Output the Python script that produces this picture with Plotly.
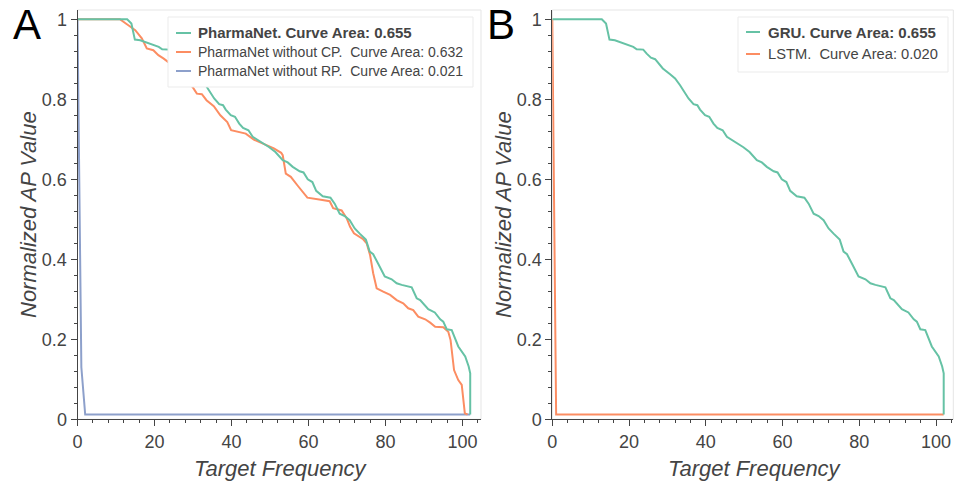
import plotly.graph_objects as go

# ---------------- data ----------------
gru_x = [0, 12.9, 14, 14.9, 16.3, 19.4, 21.1, 22, 23.7, 24.6, 25.7, 26.8, 28.8, 30.7, 32, 33.3,
         34.6, 35.5, 36.8, 37.8, 38.5, 39.8, 40.9, 42, 43, 44.4, 45.5, 46.5, 48.5, 49.8, 51.4,
         53.3, 54.6, 55.9, 57.7, 58.7, 59.8, 61, 62, 63.7, 65.7, 66.8, 68.1, 69.4, 70.7, 72,
         73.3, 74.9, 75.9, 76.8, 78.1, 79.8, 81.6, 82.9, 84.2, 86.8, 88.1, 89, 91.1, 92.8, 94.2,
         95, 95.9, 97.2, 98.9, 100.7, 101.6, 102, 102]
gru_y = [1, 1, 0.989, 0.949, 0.9475, 0.937, 0.931, 0.925, 0.924, 0.914, 0.904, 0.9, 0.877,
         0.8625, 0.852, 0.835, 0.814, 0.802, 0.7875, 0.785, 0.774, 0.76, 0.756, 0.739, 0.728,
         0.7225, 0.706, 0.7, 0.69, 0.68, 0.668, 0.6475, 0.642, 0.631, 0.62, 0.617, 0.6, 0.593,
         0.571, 0.5575, 0.554, 0.539, 0.514, 0.508, 0.4975, 0.477, 0.464, 0.449, 0.419, 0.4125,
         0.389, 0.357, 0.35, 0.34, 0.336, 0.33, 0.3025, 0.298, 0.275, 0.267, 0.25, 0.244, 0.225,
         0.223, 0.182, 0.157, 0.132, 0.115, 0.012]

nocp_x = [0, 11, 13.2, 15, 16.7, 18, 19.7, 21, 22.3, 24.1, 25.3, 30, 31, 32.3, 33.5, 35.4, 37.1,
          38.9, 39.9, 41.9, 43.7, 45.8, 48.4, 51, 52.9, 53.3, 54.1, 55.4, 57.1, 58.4, 59.7, 63.2,
          65.5, 66.4, 68.6, 69.9, 70.8, 71.8, 74.2, 75.1, 76, 76.8, 77.7, 79.4, 81.2, 82.9, 84.6,
          85.9, 87.2, 88.5, 90.3, 91.6, 92.9, 95, 96.3, 96.9, 97.8, 98.9, 99.8, 100.6, 101.3]
nocp_y = [1, 1, 0.985, 0.9725, 0.952, 0.927, 0.9225, 0.91, 0.902, 0.889, 0.8775, 0.829, 0.814,
          0.8125, 0.7975, 0.7825, 0.76, 0.743, 0.7225, 0.718, 0.714, 0.699, 0.6875, 0.677, 0.666,
          0.66, 0.614, 0.606, 0.585, 0.568, 0.554, 0.549, 0.545, 0.5275, 0.522, 0.5025, 0.481,
          0.465, 0.45, 0.44, 0.41, 0.365, 0.3275, 0.319, 0.311, 0.298, 0.29, 0.2775, 0.273,
          0.2565, 0.25, 0.2415, 0.2315, 0.23, 0.219, 0.198, 0.123, 0.098, 0.086, 0.015, 0.012]

norp_x = [0, 1, 2, 102]
norp_y = [1, 0.13, 0.012, 0.012]

lstm_x = [0, 1, 102]
lstm_y = [1, 0.012, 0.012]

legend_a = ["<b>PharmaNet. Curve Area: 0.655</b>",
            "PharmaNet without CP.\u00a0 Curve Area: 0.632",
            "PharmaNet without RP.\u00a0 Curve Area: 0.021"]
legend_b = ["<b>GRU. Curve Area: 0.655</b>",
            "LSTM.\u00a0 Curve Area: 0.020"]

x_tickvals = [0, 20, 40, 60, 80, 100]
x_ticktext = ["0", "20", "40", "60", "80", "100"]
y_tickvals = [0, 0.2, 0.4, 0.6, 0.8, 1.0]
y_ticktext = ["0", "0.2", "0.4", "0.6", "0.8", "1"]

GREEN, ORANGE, BLUE = "#66c2a5", "#fc8d62", "#8da0cb"
W, H = 961, 484
FONT = "Liberation Sans, Arial, sans-serif"


def px(x):
    return x / W


def py(y):
    return 1 - y / H


fig = go.Figure()
fig.add_trace(go.Scatter(x=norp_x, y=norp_y, mode="lines", line=dict(color=BLUE, width=2),
                         xaxis="x", yaxis="y", showlegend=False))
fig.add_trace(go.Scatter(x=nocp_x, y=nocp_y, mode="lines", line=dict(color=ORANGE, width=2),
                         xaxis="x", yaxis="y", showlegend=False))
fig.add_trace(go.Scatter(x=gru_x, y=gru_y, mode="lines", line=dict(color=GREEN, width=2),
                         xaxis="x", yaxis="y", showlegend=False))
fig.add_trace(go.Scatter(x=lstm_x, y=lstm_y, mode="lines", line=dict(color=ORANGE, width=2),
                         xaxis="x2", yaxis="y2", showlegend=False))
fig.add_trace(go.Scatter(x=gru_x, y=gru_y, mode="lines", line=dict(color=GREEN, width=2),
                         xaxis="x2", yaxis="y2", showlegend=False))

ydom = [py(419.3), py(10)]
common_x = dict(showgrid=False, zeroline=False, showline=True, linecolor="#444", linewidth=1,
                automargin=False,
                ticks="outside", ticklen=6, tickcolor="#444", tickwidth=1,
                tickvals=x_tickvals, ticktext=x_ticktext,
                tickfont=dict(family=FONT, size=18, color="#444"),
                minor=dict(ticks="outside", ticklen=3, tickcolor="#444", dtick=4, tick0=0,
                           showgrid=False))
common_y = dict(showgrid=False, zeroline=False, showline=True, linecolor="#444", linewidth=1,
                automargin=False,
                ticks="outside", ticklen=6, tickcolor="#444", tickwidth=1,
                tickvals=y_tickvals, ticktext=y_ticktext, range=[0, 1.023],
                tickfont=dict(family=FONT, size=18, color="#444"),
                minor=dict(ticks="outside", ticklen=3, tickcolor="#444", dtick=0.04, tick0=0,
                           showgrid=False))

fig.update_layout(
    template="none",
    width=W, height=H, margin=dict(l=0, r=0, t=0, b=0, pad=0),
    paper_bgcolor="white", plot_bgcolor="white",
    xaxis=dict(domain=[px(77.5), px(481)], range=[0, 104.8], anchor="y", **common_x),
    yaxis=dict(domain=ydom, anchor="x", **common_y),
    xaxis2=dict(domain=[px(552.3), px(953.3)], range=[0, 104.5], anchor="y2", **common_x),
    yaxis2=dict(domain=ydom, anchor="x2", **common_y),
)

shapes = []
# light outlines of the plot areas
for xr, yr in (("x", "y"), ("x2", "y2")):
    shapes.append(dict(type="rect", xref=xr + " domain", yref=yr + " domain", x0=0, x1=1,
                       y0=0, y1=1, line=dict(color="#e5e5e5", width=1), layer="below"))

annotations = []
# legend A
shapes.append(dict(type="rect", xref="paper", yref="paper", x0=px(168), x1=px(473),
                   y0=py(87), y1=py(17), line=dict(color="#ebebeb", width=1),
                   fillcolor="white", layer="above"))
for i, (txt, col, yy) in enumerate(zip(legend_a, [GREEN, ORANGE, BLUE], [33, 52, 71])):
    shapes.append(dict(type="line", xref="paper", yref="paper", x0=px(176), x1=px(191),
                       y0=py(yy), y1=py(yy), line=dict(color=col, width=2), layer="above"))
    annotations.append(dict(xref="paper", yref="paper", x=px(196), y=py(yy), text=txt,
                            showarrow=False, xanchor="left", yanchor="middle",
                            font=dict(family=FONT, size=15 if i == 0 else 14, color="#444")))
# legend B
shapes.append(dict(type="rect", xref="paper", yref="paper", x0=px(738), x1=px(948),
                   y0=py(72), y1=py(17), line=dict(color="#ebebeb", width=1),
                   fillcolor="white", layer="above"))
for i, (txt, col, yy) in enumerate(zip(legend_b, [GREEN, ORANGE], [32, 54])):
    shapes.append(dict(type="line", xref="paper", yref="paper", x0=px(746), x1=px(760),
                       y0=py(yy), y1=py(yy), line=dict(color=col, width=2), layer="above"))
    annotations.append(dict(xref="paper", yref="paper", x=px(766), y=py(yy), text=txt,
                            showarrow=False, xanchor="left", yanchor="middle",
                            font=dict(family=FONT, size=15 if i == 0 else 14.7, color="#444")))

# axis titles
for cx in (281, 755):
    annotations.append(dict(xref="paper", yref="paper", x=px(cx), y=py(468),
                            text="<i>Target Frequency</i>", showarrow=False,
                            xanchor="center", yanchor="middle",
                            font=dict(family=FONT, size=22, color="#444")))
for cx in (28, 503):
    annotations.append(dict(xref="paper", yref="paper", x=px(cx), y=py(215),
                            text="<i>Normalized AP Value</i>", showarrow=False, textangle=-90,
                            xanchor="center", yanchor="middle",
                            font=dict(family=FONT, size=22, color="#444")))
# panel letters
for lbl, cx in (("A", 26.5), ("B", 501)):
    annotations.append(dict(xref="paper", yref="paper", x=px(cx), y=py(25), text=lbl,
                            showarrow=False, xanchor="center", yanchor="middle",
                            font=dict(family=FONT, size=42, color="black")))

fig.update_layout(shapes=shapes, annotations=annotations)
fig.write_html("out.html")
